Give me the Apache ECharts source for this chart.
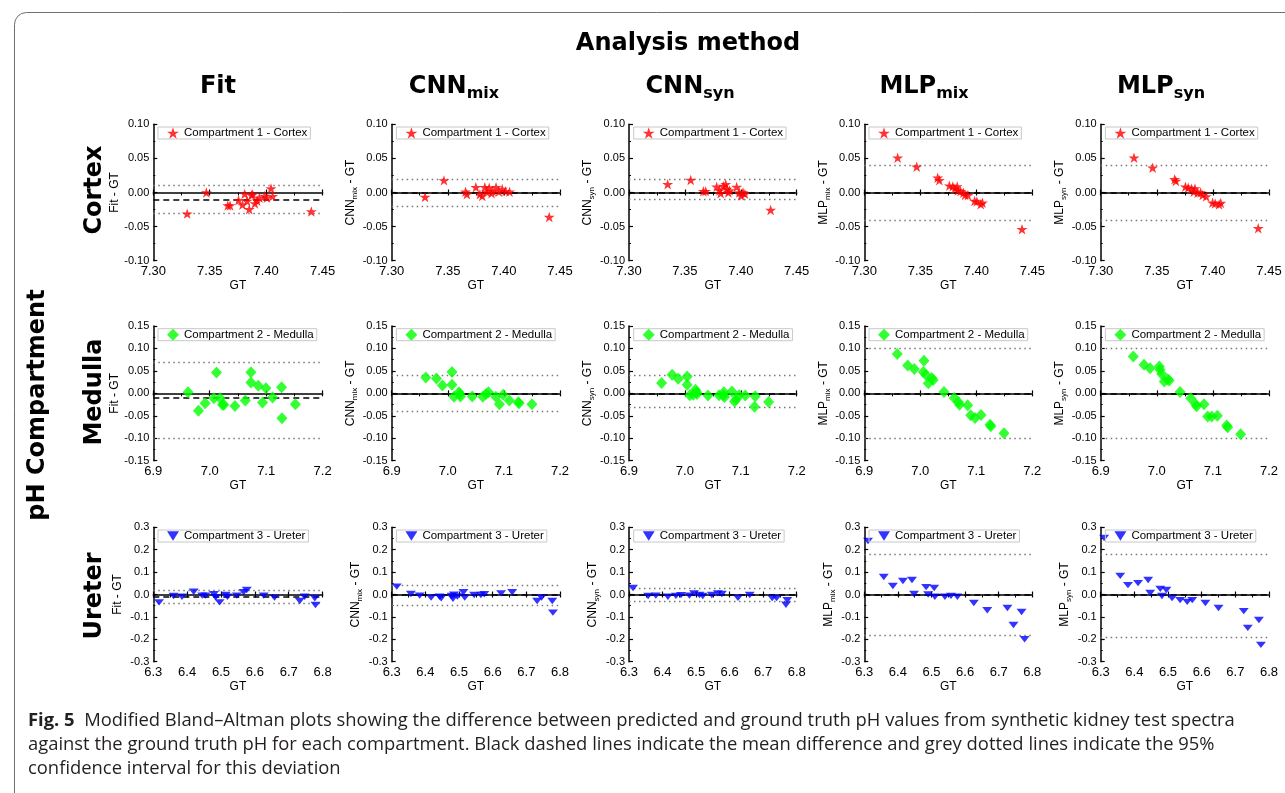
<!DOCTYPE html>
<html><head><meta charset="utf-8">
<script src="https://cdn.jsdelivr.net/npm/echarts@6/dist/echarts.min.js"></script>
<style>html,body{margin:0;padding:0;background:#fff}#c{width:1285px;height:793px}</style>
</head><body><div id="c"></div><script>
// ---------- data ----------
const methodTitles = [['Fit',''],['CNN','mix'],['CNN','syn'],['MLP','mix'],['MLP','syn']];
const compartmentNames = ['Cortex','Medulla','Ureter'];
const legendNames = ['Compartment 1 - Cortex','Compartment 2 - Medulla','Compartment 3 - Ureter'];
// axis ranges [min, max, interval]
const cortexXRange = [7.30, 7.45, 0.05], cortexYRange = [-0.10, 0.10, 0.05];
const medullaXRange = [6.9, 7.2, 0.1], medullaYRange = [-0.15, 0.15, 0.05];
const ureterXRange = [6.3, 6.8, 0.1], ureterYRange = [-0.3, 0.3, 0.1];

// Cortex [GT, difference]
const cortexFit = [[7.330,-0.031],[7.347,0.000],[7.366,-0.019],[7.368,-0.019],[7.3755,-0.0115],[7.379,-0.018],[7.381,-0.002],[7.383,-0.0125],[7.385,-0.0246],[7.387,-0.0037],[7.388,-0.003],[7.390,-0.016],[7.392,-0.012],[7.394,-0.0076],[7.3986,-0.005],[7.4007,-0.0076],[7.4043,0.006],[7.4057,-0.0056],[7.440,-0.028]];
const cortexCnnMix = [[7.3297,-0.0066],[7.3466,0.0178],[7.3658,0.001],[7.367,-0.0027],[7.375,0.0076],[7.3786,-0.0027],[7.3807,-0.005],[7.383,0.0076],[7.3845,0.001],[7.3869,0.007],[7.389,-0.001],[7.390,0.002],[7.393,0.0076],[7.3955,0.001],[7.3985,0.005],[7.4015,0.002],[7.405,0.001],[7.4404,-0.036]];
const cortexCnnSyn = [[7.3346,0.012],[7.3552,0.0183],[7.3665,0.0018],[7.3686,0.002],[7.3784,0.0085],[7.381,0.003],[7.382,-0.001],[7.3844,0.0095],[7.3865,0.012],[7.3874,0.005],[7.3888,0.000],[7.390,0.003],[7.3963,0.008],[7.3987,0.000],[7.4002,-0.0046],[7.402,0.000],[7.4037,-0.002],[7.4267,-0.0256]];
const cortexMlpMix = [[7.3298,0.051],[7.3468,0.0378],[7.3655,0.0217],[7.367,0.018],[7.376,0.010],[7.379,0.009],[7.381,0.006],[7.383,0.009],[7.3836,0.003],[7.386,0.002],[7.3885,-0.0005],[7.390,-0.0037],[7.3925,-0.004],[7.3985,-0.0125],[7.4005,-0.013],[7.404,-0.0173],[7.4055,-0.015],[7.4408,-0.054]];
const cortexMlpSyn = [[7.3297,0.051],[7.3463,0.0363],[7.3659,0.0193],[7.367,0.017],[7.3755,0.0085],[7.378,0.007],[7.381,0.0055],[7.383,0.001],[7.384,0.006],[7.3865,-0.0005],[7.389,0.000],[7.391,-0.0037],[7.394,-0.006],[7.3997,-0.015],[7.402,-0.016],[7.4055,-0.0175],[7.407,-0.0155],[7.4404,-0.0525]];
const cortexMean = [-0.0125, 0.000, 0.003, 0.0015, 0.000];
const cortexUpper = [0.007, 0.020, 0.021, 0.044, 0.042];
const cortexLower = [-0.031, -0.020, -0.0135, -0.0405, -0.0415];

// Medulla [GT, difference]
const medullaFit = [[6.9616,0.0027],[6.980,-0.039],[6.9918,-0.0218],[7.0073,-0.0107],[7.012,0.0464],[7.0185,-0.0107],[7.0226,-0.0256],[7.025,-0.0256],[7.0446,-0.028],[7.063,-0.016],[7.073,0.047],[7.073,0.024],[7.086,0.0167],[7.0936,-0.0205],[7.0996,0.0116],[7.1114,-0.0094],[7.1273,0.0138],[7.128,-0.0553],[7.1517,-0.024]];
const medullaCnnMix = [[6.9608,0.0355],[6.9797,0.033],[6.9904,0.0177],[7.0074,0.0477],[7.0074,0.019],[7.011,-0.0074],[7.0199,0.0022],[7.0216,-0.0015],[7.0225,-0.007],[7.0436,-0.0071],[7.0624,-0.0074],[7.0683,-0.0015],[7.0725,0.0022],[7.0855,-0.0074],[7.092,-0.024],[7.0986,-0.003],[7.1097,-0.016],[7.1257,-0.0196],[7.127,-0.022],[7.150,-0.024]];
const medullaCnnSyn = [[6.9583,0.023],[6.9772,0.0412],[6.988,0.0323],[7.004,0.0375],[7.004,0.019],[7.0087,-0.0045],[7.0147,-0.003],[7.019,0.0082],[7.021,0.0022],[7.0216,-0.0015],[7.0413,-0.005],[7.061,-0.0045],[7.0686,-0.005],[7.0697,0.0022],[7.071,-0.0082],[7.0842,0.004],[7.0888,-0.018],[7.092,-0.013],[7.097,-0.0045],[7.108,-0.005],[7.1258,-0.0067],[7.1246,-0.030],[7.1497,-0.019]];
const medullaMlpMix = [[6.9589,0.0874],[6.9775,0.062],[6.9893,0.054],[7.0066,0.0725],[7.0054,0.0473],[7.010,0.0412],[7.0143,0.0227],[7.0204,0.034],[7.023,0.0296],[7.0423,0.003],[7.0607,-0.0104],[7.068,-0.019],[7.070,-0.0256],[7.0846,-0.0263],[7.090,-0.0488],[7.0977,-0.055],[7.1084,-0.048],[7.1245,-0.070],[7.126,-0.073],[7.1495,-0.0886]];
const medullaMlpSyn = [[6.9581,0.082],[6.9772,0.0635],[6.9879,0.056],[7.0045,0.060],[7.0057,0.0525],[7.0087,0.043],[7.0134,0.0262],[7.0194,0.0316],[7.022,0.0286],[7.0414,0.003],[7.0606,-0.0107],[7.0693,-0.024],[7.071,-0.029],[7.0842,-0.024],[7.0907,-0.0515],[7.0978,-0.0515],[7.1079,-0.050],[7.1245,-0.0717],[7.1263,-0.0754],[7.1495,-0.091]];
const medullaMean = [-0.013, 0.000, 0.004, 0.000, 0.000];
const medullaUpper = [0.075, 0.0395, 0.039, 0.102, 0.102];
const medullaLower = [-0.100, -0.039, -0.0337, -0.103, -0.105];

// Ureter [GT, difference]
const ureterFit = [[6.317,-0.035],[6.3597,-0.007],[6.3847,-0.010],[6.4193,0.0125],[6.4443,-0.005],[6.454,-0.005],[6.479,0.001],[6.484,-0.012],[6.4959,-0.035],[6.5138,-0.002],[6.519,-0.010],[6.5466,-0.005],[6.5666,0.010],[6.576,0.020],[6.626,-0.005],[6.658,-0.014],[6.7325,-0.029],[6.747,-0.010],[6.777,-0.017],[6.779,-0.047]];
const ureterCnnMix = [[6.315,0.035],[6.357,0.002],[6.383,-0.005],[6.417,-0.014],[6.442,-0.010],[6.447,-0.017],[6.478,-0.007],[6.482,-0.019],[6.485,-0.001],[6.495,-0.009],[6.513,0.010],[6.517,-0.014],[6.545,-0.002],[6.565,-0.002],[6.575,0.001],[6.625,0.005],[6.658,0.010],[6.732,-0.029],[6.745,-0.014],[6.777,-0.029],[6.779,-0.081]];
const ureterCnnSyn = [[6.312,0.029],[6.357,-0.007],[6.380,-0.005],[6.416,-0.010],[6.440,-0.006],[6.455,-0.003],[6.480,-0.005],[6.494,0.005],[6.510,-0.002],[6.520,-0.007],[6.547,-0.002],[6.565,0.005],[6.577,0.002],[6.625,-0.015],[6.660,-0.002],[6.727,-0.016],[6.740,-0.016],[6.768,-0.046],[6.772,-0.025]];
const ureterMlpMix = [[6.311,0.239],[6.358,0.078],[6.385,0.038],[6.415,0.060],[6.442,0.065],[6.448,0.002],[6.484,0.033],[6.490,0.000],[6.508,0.029],[6.510,-0.010],[6.540,-0.010],[6.558,-0.006],[6.577,-0.010],[6.626,-0.038],[6.666,-0.070],[6.726,-0.060],[6.744,-0.136],[6.768,-0.078],[6.777,-0.200]];
const ureterMlpSyn = [[6.310,0.252],[6.358,0.083],[6.381,0.042],[6.411,0.051],[6.441,0.065],[6.447,0.007],[6.477,0.025],[6.482,-0.007],[6.495,0.020],[6.512,-0.016],[6.536,-0.025],[6.557,-0.033],[6.572,-0.025],[6.611,-0.038],[6.650,-0.060],[6.725,-0.074],[6.737,-0.149],[6.770,-0.114],[6.776,-0.225]];
const ureterMean = [-0.007, -0.004, -0.003, 0.000, 0.000];
const ureterUpper = [0.0245, 0.038, 0.025, 0.176, 0.185];
const ureterLower = [-0.038, -0.050, -0.032, -0.176, -0.194];

// ---------- styling / layout ----------
const STAR = 'path://M0,-10L2.245,-3.09L9.51,-3.09L3.633,1.18L5.88,8.09L0,3.82L-5.88,8.09L-3.633,1.18L-9.51,-3.09L-2.245,-3.09Z';
const TRI_DOWN = 'path://M-5,-4L5,-4L0,4Z';
const AX_FONT = '"Liberation Sans", Arial, sans-serif';
const HEAD_FONT = '"DejaVu Sans", Verdana, sans-serif';

const rows = [
  {x: cortexXRange, y: cortexYRange, xDec: 2, yDec: 2, top: 124.3, h: 136.4, color: '#ff0000', symbol: STAR, size: 11,
   data: [cortexFit, cortexCnnMix, cortexCnnSyn, cortexMlpMix, cortexMlpSyn], mean: cortexMean, upper: cortexUpper, lower: cortexLower},
  {x: medullaXRange, y: medullaYRange, xDec: 1, yDec: 2, top: 326, h: 134.7, color: '#00ff00', symbol: 'diamond', size: [11, 12],
   data: [medullaFit, medullaCnnMix, medullaCnnSyn, medullaMlpMix, medullaMlpSyn], mean: medullaMean, upper: medullaUpper, lower: medullaLower},
  {x: ureterXRange, y: ureterYRange, xDec: 1, yDec: 1, top: 527.3, h: 134.4, color: '#0000ff', symbol: TRI_DOWN, size: [10, 8],
   data: [ureterFit, ureterCnnMix, ureterCnnSyn, ureterMlpMix, ureterMlpSyn], mean: ureterMean, upper: ureterUpper, lower: ureterLower}
];
const cols = [
  {left: 153.3, w: 169.3, title: 218}, {left: 391.7, w: 168.3, title: 454}, {left: 629, w: 167.7, title: 690},
  {left: 864.3, w: 168, title: 924}, {left: 1100.7, w: 168.3, title: 1161}
];

const option = {animation: false, grid: [], xAxis: [], yAxis: [], series: [], legend: [], graphic: []};

rows.forEach((r, ri) => {
  cols.forEach((c, ci) => {
    const gi = ri * 5 + ci;
    const [t, sub] = methodTitles[ci];
    option.grid.push({left: c.left, top: r.top, width: c.w, height: r.h});
    const xBase = {type: 'value', gridIndex: gi, min: r.x[0], max: r.x[1], interval: r.x[2], splitLine: {show: false}};
    option.xAxis.push(Object.assign({}, xBase, {
      position: 'bottom', axisLine: {show: false, onZero: false}, axisTick: {show: false},
      axisLabel: {fontSize: 13, color: '#000', margin: 4, fontFamily: AX_FONT, formatter: v => v.toFixed(r.xDec)},
      name: 'GT', nameLocation: 'middle', nameGap: 19, nameTextStyle: {fontSize: 12, color: '#000', fontFamily: AX_FONT}
    }));
    option.xAxis.push(Object.assign({}, xBase, {
      position: 'bottom', axisLine: {show: true, onZero: true, onZeroAxisIndex: gi, lineStyle: {color: '#000', width: 1.5}},
      axisTick: {show: true, inside: false, length: 3, lineStyle: {color: '#000', width: 1.2}},
      minorTick: {show: true, splitNumber: 2, length: 3, lineStyle: {color: '#000', width: 1}},
      axisLabel: {show: false}
    }));
    option.xAxis.push(Object.assign({}, xBase, {
      position: 'bottom', axisLine: {show: false, onZero: true, onZeroAxisIndex: gi},
      axisTick: {show: true, inside: true, length: 3, lineStyle: {color: '#000', width: 1.2}},
      axisLabel: {show: false}
    }));
    const yName = sub ? `{a|${t}}{s|${sub}}{a| - GT}` : `{a|${t} - GT}`;
    option.yAxis.push({
      type: 'value', gridIndex: gi, min: r.y[0], max: r.y[1], interval: r.y[2], splitLine: {show: false},
      axisLine: {show: true, onZero: false, lineStyle: {color: '#000', width: 1.5}},
      axisTick: {show: true, inside: true, length: 4, lineStyle: {color: '#000', width: 1.2}},
      minorTick: {show: true, splitNumber: 2, length: 2, lineStyle: {color: '#000', width: 1}},
      axisLabel: {fontSize: 11, color: '#000', margin: 4, fontFamily: AX_FONT, formatter: v => v.toFixed(r.yDec)},
      name: yName, nameLocation: 'middle', nameGap: 28, nameRotate: 90,
      nameTextStyle: {rich: {
        a: {fontSize: 12, color: '#000', fontFamily: AX_FONT, lineHeight: 16},
        s: {fontSize: 8, color: '#000', fontFamily: AX_FONT, lineHeight: 8, verticalAlign: 'bottom'}
      }}
    });
    option.series.push({
      type: 'scatter', name: legendNames[ri], xAxisIndex: gi * 3, yAxisIndex: gi,
      data: r.data[ci], symbol: r.symbol, symbolSize: r.size, symbolKeepAspect: true,
      itemStyle: {color: r.color}, z: 3,
      markLine: {silent: true, symbol: 'none', z: 1, label: {show: false}, animation: false,
        data: [
          {yAxis: r.mean[ci], lineStyle: {type: [6, 4], color: '#000', width: 1.6}},
          {yAxis: r.upper[ci], lineStyle: {type: [1.5, 3.5], color: '#777', width: 1.4}},
          {yAxis: r.lower[ci], lineStyle: {type: [1.5, 3.5], color: '#777', width: 1.4}}
        ]}
    });
    option.legend.push({
      data: [legendNames[ri]], left: c.left + 4.7, top: r.top + 2.7, orient: 'horizontal',
      itemWidth: 12, itemHeight: 12, padding: [0, 3, 0, 9], itemGap: 0,
      borderColor: '#c8c8c8', borderWidth: 1, selectedMode: false,
      textStyle: {fontSize: 11.5, color: '#000', fontFamily: AX_FONT, padding: [1, 0, 0, 0]}
    });
  });
});

// headers
const headRich = {
  a: {fontSize: 24, fontWeight: 'bold', fontFamily: HEAD_FONT, lineHeight: 30, fill: '#000'},
  s: {fontSize: 16, fontWeight: 'bold', fontFamily: HEAD_FONT, lineHeight: 14, verticalAlign: 'bottom', fill: '#000'}
};
option.graphic.push({type: 'rect', shape: {x: 14.5, y: 12.5, width: 1320, height: 820, r: 12},
  style: {fill: 'none', stroke: '#707070', lineWidth: 1}, silent: true});
option.graphic.push({type: 'text', x: 688, y: 44, style: {text: 'Analysis method', fontSize: 24, fontWeight: 'bold',
  fontFamily: HEAD_FONT, fill: '#000', align: 'center', verticalAlign: 'middle'}});
cols.forEach((c, ci) => {
  const [t, sub] = methodTitles[ci];
  option.graphic.push({type: 'text', x: c.title, y: 87, style: {
    text: sub ? `{a|${t}}{s|${sub}}` : `{a|${t}}`, rich: headRich, align: 'center', verticalAlign: 'middle'}});
});
const rowLabelY = [190, 392, 596];
compartmentNames.forEach((n, ri) => {
  option.graphic.push({type: 'text', x: 95, y: rowLabelY[ri], rotation: Math.PI / 2, style: {text: n, fontSize: 24,
    fontWeight: 'bold', fontFamily: HEAD_FONT, fill: '#000', align: 'center', verticalAlign: 'middle'}});
});
option.graphic.push({type: 'text', x: 38, y: 405, rotation: Math.PI / 2, style: {text: 'pH Compartment', fontSize: 24,
  fontWeight: 'bold', fontFamily: HEAD_FONT, fill: '#000', align: 'center', verticalAlign: 'middle'}});

// caption
const CAP_FONT = '"Open Sans", "Noto Sans", sans-serif';
const capRich = {
  b: {fontSize: 18.4, fontWeight: 'bold', fontFamily: CAP_FONT, fill: '#231f20'},
  n: {fontSize: 18.4, fontFamily: CAP_FONT, fill: '#231f20'}
};
const captionLines = [
  '{b|Fig. 5}{n|  Modified Bland–Altman plots showing the difference between predicted and ground truth pH values from synthetic kidney test spectra}',
  '{n|against the ground truth pH for each compartment. Black dashed lines indicate the mean difference and grey dotted lines indicate the 95%}',
  '{n|confidence interval for this deviation}'
];
captionLines.forEach((l, i) => {
  option.graphic.push({type: 'text', x: 28, y: 721 + i * 24, style: {text: l, rich: capRich, align: 'left', verticalAlign: 'middle'}});
});

const chart = echarts.init(document.getElementById('c'), null, {renderer: 'canvas'});
chart.setOption(option);
</script></body></html>
